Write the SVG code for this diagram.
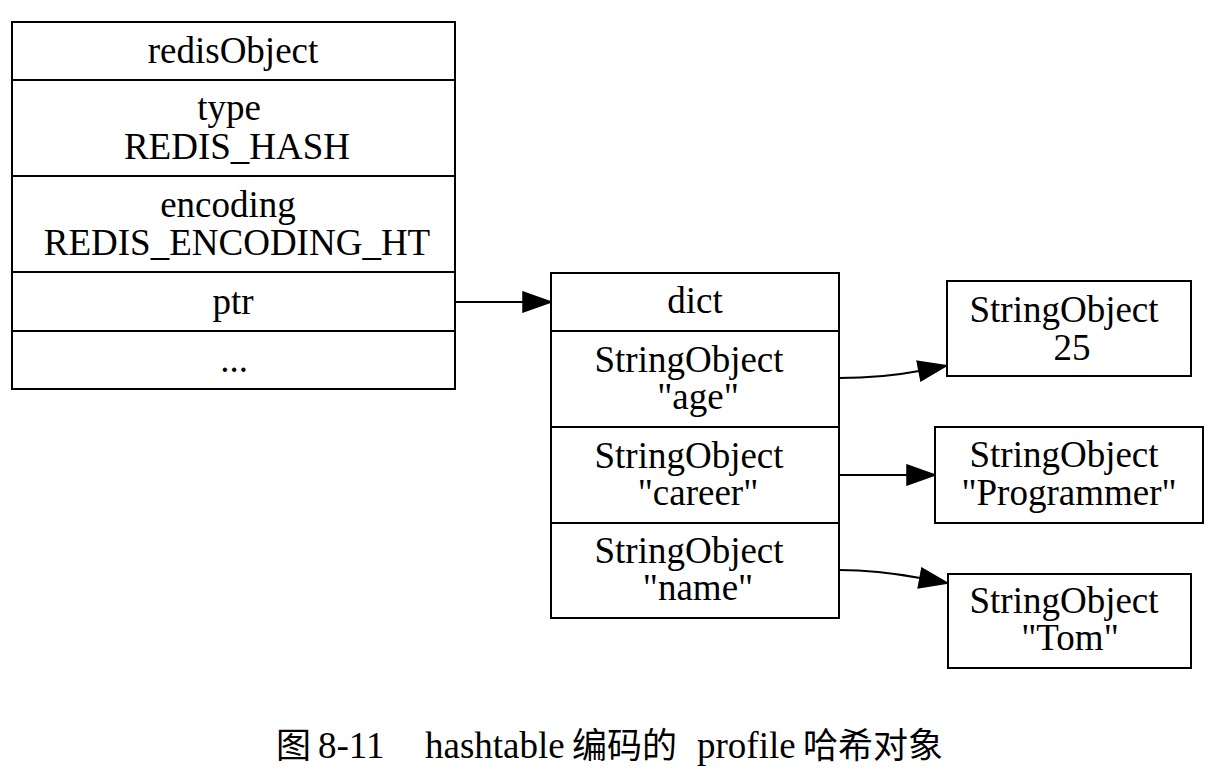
<svg xmlns="http://www.w3.org/2000/svg" width="1220" height="776" viewBox="0 0 1220 776">
<style>
.box{fill:#fff;stroke:#000;stroke-width:2}
.div{stroke:#000;stroke-width:2}
.t{font-family:"Liberation Serif","Times New Roman",serif;font-size:37px;fill:#000;text-anchor:middle}
.cap{font-family:"Liberation Serif","Times New Roman",serif;font-size:37px;fill:#000}
.cjk{font-family:"Noto Sans CJK SC",sans-serif;font-size:35px;fill:#000}
.edge{fill:none;stroke:#000;stroke-width:2}
</style>
<defs>
<marker id="arr" markerUnits="userSpaceOnUse" markerWidth="30" markerHeight="22" refX="0" refY="10" orient="auto" viewBox="-1 -1 30 22">
<path d="M0,0 L28,10 L0,20 Z" fill="#000" stroke="#000" stroke-width="1.5"/>
</marker>
</defs>
<rect width="1220" height="776" fill="#fff"/>
<g id="redisObject">
<rect class="box" x="12" y="22" width="443" height="367"/>
<line class="div" x1="12" y1="80" x2="455" y2="80"/>
<line class="div" x1="12" y1="176" x2="455" y2="176"/>
<line class="div" x1="12" y1="272" x2="455" y2="272"/>
<line class="div" x1="12" y1="331" x2="455" y2="331"/>
<text class="t" x="233" y="63">redisObject</text>
<text class="t" x="229" y="120">type</text>
<text class="t" x="237" y="159">REDIS_HASH</text>
<text class="t" x="228" y="217">encoding</text>
<text class="t" x="237" y="255">REDIS_ENCODING_HT</text>
<text class="t" x="233" y="314">ptr</text>
<text class="t" x="234" y="372">...</text>
</g>
<g id="dict">
<rect class="box" x="551" y="273" width="288" height="345"/>
<line class="div" x1="551" y1="331" x2="839" y2="331"/>
<line class="div" x1="551" y1="427" x2="839" y2="427"/>
<line class="div" x1="551" y1="523" x2="839" y2="523"/>
<text class="t" x="695" y="313">dict</text>
<text class="t" x="689" y="372">StringObject</text>
<text class="t" x="698" y="409">"age"</text>
<text class="t" x="689" y="468">StringObject</text>
<text class="t" x="698" y="505">"career"</text>
<text class="t" x="689" y="563">StringObject</text>
<text class="t" x="698" y="600">"name"</text>
</g>
<g id="val25">
<rect class="box" x="947" y="281" width="244" height="95"/>
<text class="t" x="1064" y="322">StringObject</text>
<text class="t" x="1072" y="360">25</text>
</g>
<g id="valProgrammer">
<rect class="box" x="935" y="427" width="268" height="96"/>
<text class="t" x="1064" y="467">StringObject</text>
<text class="t" x="1069" y="505">"Programmer"</text>
</g>
<g id="valTom">
<rect class="box" x="948" y="574" width="243" height="94"/>
<text class="t" x="1064" y="613">StringObject</text>
<text class="t" x="1070" y="650">"Tom"</text>
</g>
<g id="connectors">
<path class="edge" d="M455,302 L523,302" marker-end="url(#arr)"/>
<path class="edge" d="M839,378 C865,378 893,376 919,371" marker-end="url(#arr)"/>
<path class="edge" d="M839,475 L907,475" marker-end="url(#arr)"/>
<path class="edge" d="M839,570 C865,570 893,573 920,578" marker-end="url(#arr)"/>
</g>
<g id="caption">
<text class="cjk" x="276" y="758">图</text>
<text class="cap" x="318" y="758">8-11</text>
<text class="cap" x="425" y="758">hashtable</text>
<text class="cjk" x="572" y="758">编码的</text>
<text class="cap" x="697" y="758">profile</text>
<text class="cjk" x="803" y="758">哈希对象</text>
</g>
</svg>
